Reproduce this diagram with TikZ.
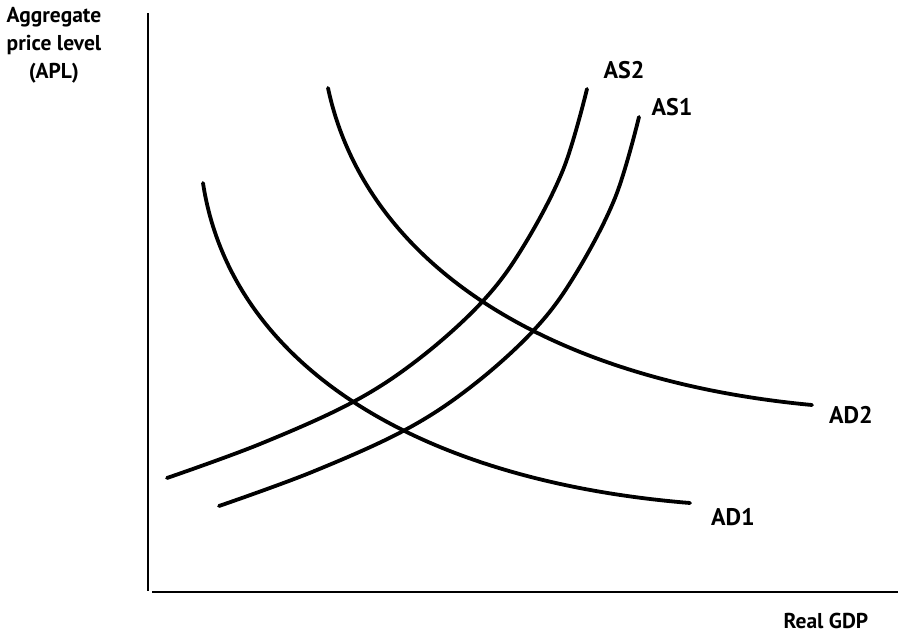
\documentclass[tikz,border=0pt]{standalone}
\usepackage{fontspec}
\setmainfont{PT Sans}
\begin{document}
\begin{tikzpicture}[x=1pt,y=-1pt,
  curve/.style={line width=3.8pt,line cap=round,black},
  axis/.style={line width=1.9pt,black},
  axlbl/.style={font=\bfseries\fontsize{21.5}{28}\selectfont,inner sep=0pt},
  crvlbl/.style={font=\bfseries\fontsize{24}{28}\selectfont,inner sep=0pt}]
\useasboundingbox (0,0) rectangle (898,633);
% axes
\coordinate (ytop) at (148,13);
\coordinate (origin) at (148,591);
\coordinate (xstart) at (152,592);
\coordinate (xend) at (898,592);
\draw[axis] (ytop) -- (origin);
\draw[axis] (xstart) -- (xend);
% demand curves
\coordinate (ad1s) at (203,183); \coordinate (ad1e) at (690,503);
\coordinate (ad2s) at (328,88);  \coordinate (ad2e) at (812,405);
\draw[curve] (ad1s) .. controls (230,360) and (410,480) .. (ad1e);
\draw[curve] (ad2s) .. controls (365,262) and (545,380) .. (ad2e);
% supply curves
\draw[curve] plot[smooth,tension=0.6] coordinates
  {(167,478) (260,444) (353,402) (420,358) (482,302) (523,247) (563,170) (587,89)};
\draw[curve] plot[smooth,tension=0.6] coordinates
  {(219,506) (312,472) (405,430) (472,386) (534,330) (575,275) (615,198) (639,117)};
% labels
\node[axlbl,align=center] (ylab) at (54,45) {Aggregate\\price level\\(APL)};
\node[crvlbl] (as2l) at (624,70) {AS2};
\node[crvlbl] (as1l) at (672,107) {AS1};
\node[crvlbl] (ad2l) at (851,415) {AD2};
\node[crvlbl] (ad1l) at (733,517) {AD1};
\node[axlbl] (xlab) at (826,621) {Real GDP};
\end{tikzpicture}
\end{document}
